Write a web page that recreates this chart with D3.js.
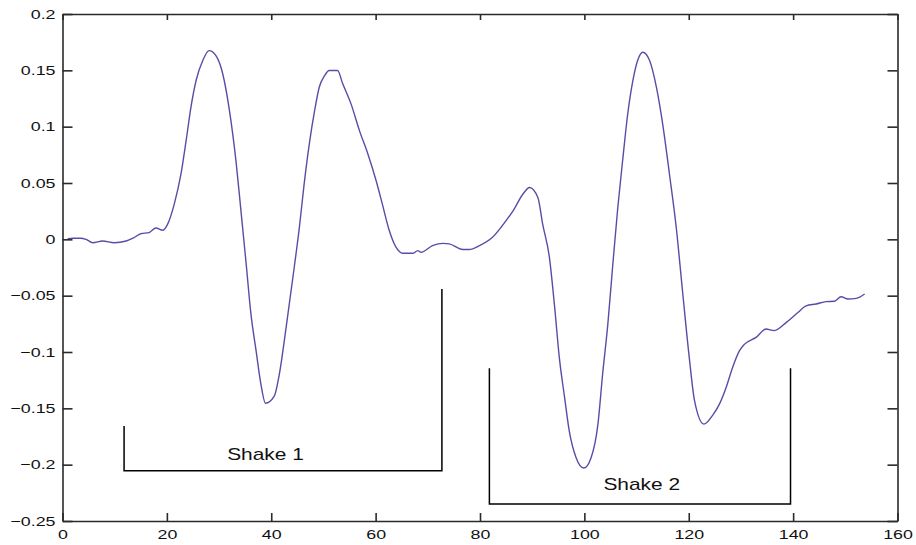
<!DOCTYPE html>
<html>
<head>
<meta charset="utf-8">
<script src="https://cdn.jsdelivr.net/npm/d3@7"></script>
<style>
  html, body { margin: 0; padding: 0; background: #fff; }
  svg { display: block; }
  text { font-family: "Liberation Sans", Arial, Helvetica, sans-serif; fill: #111; }
</style>
</head>
<body>
<svg id="chart" width="916" height="545"></svg>
<script>
// Sample index (time step) of each recorded point
const sampleT = [
  1, 2, 3.5, 4.5, 5.8, 7.7, 9.9, 12.2, 13.5, 15, 16.6, 17.9, 19.2, 20.1, 21.4,
  22.7, 23.7, 24.6, 25.6, 26.9, 28.1, 29.4, 30.7, 32, 33.3, 34.2, 35.2, 36.1,
  37.1, 38, 38.9, 40.6, 41.5, 43, 44.4, 45.4, 46.3, 47.3, 48.3, 49.2, 50.2,
  51.1, 52.7, 53.7, 55.3, 56.9, 58.5, 60.1, 61.3, 62.6, 63.9, 65.2, 67.1, 68.1,
  68.7, 70.9, 72.9, 74.1, 76.7, 77.9, 79.9, 82.4, 85, 86.3, 88.2, 89.5, 91.1,
  92, 93.3, 94.3, 95.2, 96.2, 97.1, 98.4, 99.9, 101.3, 102.6, 103.5, 104.5,
  105.4, 106.4, 107.4, 108.3, 109.3, 110.2, 111.2, 112.5, 113.8, 115, 116.3,
  117.6, 118.8, 120.1, 121.1, 122.9, 124.6, 125.9, 127.2, 128.4, 129.7, 130.7,
  132.9, 134.8, 136.4, 138.7, 140.9, 142.5, 144.4, 146.3, 147.9, 149.2, 150.5,
  152.1, 153.7
];

// Measured signal at each sample
const signal = [
  0.0005, 0.001, 0.001, 0.0, -0.003, -0.0015, -0.003, -0.0015, 0.001, 0.005,
  0.006, 0.010, 0.008, 0.013, 0.031, 0.058, 0.088, 0.117, 0.141, 0.159, 0.1675,
  0.163, 0.147, 0.114, 0.067, 0.025, -0.022, -0.066, -0.099, -0.128, -0.1455,
  -0.139, -0.121, -0.073, -0.025, 0.011, 0.049, 0.085, 0.114, 0.135, 0.145,
  0.1498, 0.1498, 0.138, 0.120, 0.0965, 0.076, 0.052, 0.031, 0.008, -0.007,
  -0.0124, -0.0124, -0.010, -0.0115, -0.0056, -0.0036, -0.004, -0.009, -0.009,
  -0.0056, 0.0018, 0.0166, 0.025, 0.040, 0.046, 0.037, 0.0137, -0.016, -0.060,
  -0.105, -0.140, -0.170, -0.1936, -0.203, -0.1936, -0.164, -0.1195, -0.075,
  -0.025, 0.028, 0.073, 0.111, 0.141, 0.1587, 0.166, 0.1587, 0.135, 0.1025,
  0.058, 0.0107, -0.0456, -0.105, -0.143, -0.164, -0.156, -0.146, -0.131,
  -0.1137, -0.099, -0.093, -0.087, -0.0796, -0.081, -0.0737, -0.065, -0.059,
  -0.0574, -0.0553, -0.055, -0.051, -0.053, -0.0524, -0.0485
];

// Tick values
const xTicks = [0, 20, 40, 60, 80, 100, 120, 140, 160];
const yTicks = [0.2, 0.15, 0.1, 0.05, 0, -0.05, -0.1, -0.15, -0.2, -0.25];

// Shake annotations: bracket spans (x start/end), bracket arm tops, bracket floor, label position
const shakeNames  = ["Shake 1", "Shake 2"];
const shakeStart  = [11.8, 81.8];
const shakeEnd    = [72.7, 139.5];
const shakeTopL   = [-0.1657, -0.1145];
const shakeTopR   = [-0.0441, -0.1145];
const shakeFloor  = [-0.2054, -0.2349];
const shakeLabelX = [38.9, 111.0];
const shakeLabelY = [-0.1955, -0.2226];

const svg = d3.select("#chart");

const x = d3.scaleLinear().domain([0, 160]).range([62.5, 897.5]);
const y = d3.scaleLinear().domain([-0.25, 0.2]).range([521, 14]);

const tickStretch = 1.37;   // horizontally widened glyphs
const labelStretch = 1.23;
const fmt = d3.format("~g");

// Bracket annotations
const ann = svg.append("g")
  .attr("fill", "none")
  .attr("stroke", "#000")
  .attr("stroke-width", 1.5);

shakeNames.forEach((name, i) => {
  const pts = [
    [x(shakeStart[i]), y(shakeTopL[i])],
    [x(shakeStart[i]), y(shakeFloor[i])],
    [x(shakeEnd[i]), y(shakeFloor[i])],
    [x(shakeEnd[i]), y(shakeTopR[i])]
  ];
  ann.append("path").attr("d", d3.line()(pts));
  svg.append("text")
    .attr("transform", `translate(${x(shakeLabelX[i])},${y(shakeLabelY[i])}) scale(${labelStretch},1)`)
    .attr("text-anchor", "middle")
    .attr("font-size", 17)
    .text(name);
});

// Signal trace
const line = d3.line()
  .x((d, i) => x(sampleT[i]))
  .y(d => y(d))
  .curve(d3.curveMonotoneX);

svg.append("path")
  .datum(signal)
  .attr("fill", "none")
  .attr("stroke", "#5a4ca6")
  .attr("stroke-width", 1.4)
  .attr("stroke-linejoin", "round")
  .attr("d", line);

// Axes: box with inward ticks
function styleAxis(g) {
  g.select(".domain").attr("stroke", "#2a2a2a").attr("stroke-width", 1.6);
  g.selectAll(".tick line").attr("stroke", "#2a2a2a").attr("stroke-width", 1.6);
  g.selectAll("text").attr("fill", "#111");
}

const bottom = svg.append("g")
  .attr("transform", `translate(0,${y(-0.25)})`)
  .call(d3.axisBottom(x).tickValues(xTicks).tickSizeInner(-8).tickSizeOuter(0).tickPadding(9).tickFormat(fmt))
  .call(styleAxis);
bottom.attr("font-size", 13).attr("font-family", null);
bottom.selectAll("text").attr("transform", `scale(${tickStretch},1)`);

const left = svg.append("g")
  .attr("transform", `translate(${x(0)},0)`)
  .call(d3.axisLeft(y).tickValues(yTicks).tickSizeInner(-10).tickSizeOuter(0).tickPadding(7).tickFormat(fmt))
  .call(styleAxis);
left.attr("font-size", 13).attr("font-family", null);
left.selectAll("text")
  .attr("x", -7 / tickStretch)
  .attr("transform", `scale(${tickStretch},1)`);

svg.append("g")
  .attr("transform", `translate(0,${y(0.2)})`)
  .call(d3.axisTop(x).tickValues(xTicks).tickSizeInner(-6).tickSizeOuter(0).tickFormat(""))
  .call(styleAxis);

svg.append("g")
  .attr("transform", `translate(${x(160)},0)`)
  .call(d3.axisRight(y).tickValues(yTicks).tickSizeInner(-10).tickSizeOuter(0).tickFormat(""))
  .call(styleAxis);
</script>
</body>
</html>
